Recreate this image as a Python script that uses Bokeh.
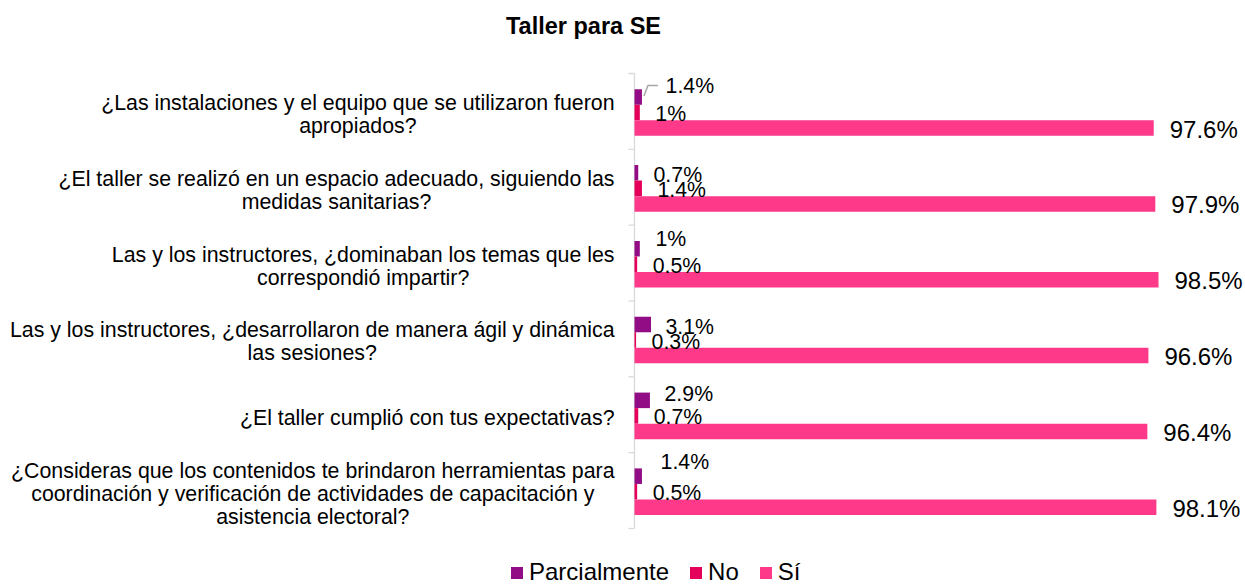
from bokeh.plotting import figure
from bokeh.models import Range1d, Legend, LegendItem, ColumnDataSource
from bokeh.embed import file_html
from bokeh.resources import INLINE
from bokeh.core.properties import value

# ---------------- data ----------------
title = "Taller para SE"
categories = [
    "¿Las instalaciones y el equipo que se utilizaron fueron\napropiados?",
    "¿El taller se realizó en un espacio adecuado, siguiendo las\nmedidas sanitarias?",
    "Las y los instructores, ¿dominaban los temas que les\ncorrespondió impartir?",
    "Las y los instructores, ¿desarrollaron de manera ágil y dinámica\nlas sesiones?",
    "¿El taller cumplió con tus expectativas?",
    "¿Consideras que los contenidos te brindaron herramientas para\ncoordinación y verificación de actividades de capacitación y\nasistencia electoral?",
]
series_names = ["Parcialmente", "No", "Sí"]
parcialmente = [1.4, 0.7, 1.0, 3.1, 2.9, 1.4]
no = [1.0, 1.4, 0.5, 0.3, 0.7, 0.5]
si = [97.6, 97.9, 98.5, 96.6, 96.4, 98.1]

# ---------------- style ----------------
FONT = "Liberation Sans"
C_P, C_NO, C_SI = "#920D85", "#E5005A", "#FF398A"
AXIS_C = "#D9D9D9"

W, H = 1245, 588
X0, YT, YB = 634, 73, 528          # axis position / top / bottom of category area (px)
PX = 5.32                           # px per percent
NCAT = len(categories)
PY = (YB - YT) / NCAT               # px per category

BAR_H = 0.205
OFFS = [0.31, 0.515, 0.72]          # bar centres inside a category band

# label nudges (pixels), as manually placed in the original
P_DX = [23.6, 15.3, 15.7, 14.5, 14.6, 18.6]
P_DY = [-11.5, 1.7, -10.0, 2.0, -6.0, -14.0]
NO_DX, NO_DY = 15.5, 1.5
SI_DX, SI_DY = 16.0, 1.0

AW = {' ': .278, ',': .278, '.': .278, '?': .556, '¿': .611, 'L': .556, 'E': .667,
      'C': .722, 'a': .556, 'b': .556, 'c': .5, 'd': .556, 'e': .556, 'f': .278,
      'g': .556, 'h': .556, 'i': .222, 'j': .222, 'k': .5, 'l': .222, 'm': .833,
      'n': .556, 'o': .556, 'p': .556, 'q': .556, 'r': .333, 's': .5, 't': .278,
      'u': .556, 'v': .5, 'w': .722, 'x': .5, 'y': .5, 'z': .5, 'á': .556,
      'é': .556, 'í': .278, 'ó': .556, 'ú': .556}


def text_w(s, size):
    return sum(AW.get(ch, 0.556) for ch in s) * size


def xd(px):
    return (px - X0) / PX


def yd(py):
    return (py - YT) / PY


def fmt(v):
    return f"{v:g}%"


p = figure(width=W, height=H, output_backend="svg", toolbar_location=None,
           x_range=Range1d(xd(0), xd(W)), y_range=Range1d(yd(H), yd(0)),
           x_axis_location=None, y_axis_location=None,
           min_border_left=0, min_border_right=0, min_border_top=0,
           min_border_bottom=0)
p.outline_line_color = None
p.xgrid.visible = False
p.ygrid.visible = False
p.background_fill_color = "white"
p.border_fill_color = "white"

# category axis: line + outward ticks at band boundaries
bounds = list(range(NCAT + 1))
p.segment(x0=[0], y0=[0], x1=[0], y1=[NCAT], line_color=AXIS_C, line_width=1.3)
p.segment(x0=[-6 / PX] * len(bounds), y0=bounds, x1=[0] * len(bounds), y1=bounds,
          line_color=AXIS_C, line_width=1.3)

idx = list(range(NCAT))
renderers = []
for vals, col, off in zip([parcialmente, no, si], [C_P, C_NO, C_SI], OFFS):
    src = ColumnDataSource(dict(y=[i + off for i in idx], right=vals))
    r = p.hbar(y="y", right="right", left=0, height=BAR_H, source=src,
               fill_color=col, line_color=None)
    renderers.append(r)

# value labels
src_p = ColumnDataSource(dict(x=parcialmente, y=[i + OFFS[0] for i in idx],
                              t=[fmt(v) for v in parcialmente], dx=P_DX, dy=P_DY))
p.text(x="x", y="y", text="t", x_offset="dx", y_offset="dy", source=src_p,
       text_font=value(FONT), text_font_size="21.3px", text_color="#000000",
       text_align="left", text_baseline="middle")
src_n = ColumnDataSource(dict(x=no, y=[i + OFFS[1] for i in idx], t=[fmt(v) for v in no]))
p.text(x="x", y="y", text="t", x_offset=NO_DX, y_offset=NO_DY, source=src_n,
       text_font=value(FONT), text_font_size="21.3px", text_color="#000000",
       text_align="left", text_baseline="middle")
src_s = ColumnDataSource(dict(x=si, y=[i + OFFS[2] for i in idx], t=[fmt(v) for v in si]))
p.text(x="x", y="y", text="t", x_offset=SI_DX, y_offset=SI_DY, source=src_s,
       text_font=value(FONT), text_font_size="24px", text_color="#000000",
       text_align="left", text_baseline="middle")

# leader line for the first "Parcialmente" label
x0 = parcialmente[0]
y0 = OFFS[0]
p.line(x=[x0 + 2 / PX, x0 + 6 / PX, x0 + 16 / PX],
       y=[y0 - 1 / PY, y0 - 11.5 / PY, y0 - 11.5 / PY],
       line_color="#A6A6A6", line_width=1.5)

# category labels (right-aligned block, centred lines)
CAT_SIZE = 21.33
RIGHT = 614
LINE_SP = 23.0
cx_l, cy_l, ct_l = [], [], []
for i, cat in enumerate(categories):
    lines = cat.split("\n")
    maxw = max(text_w(s, CAT_SIZE) for s in lines)
    cx = RIGHT - maxw / 2
    cy = YT + (i + 0.5) * PY + 3
    n = len(lines)
    for j, s in enumerate(lines):
        cx_l.append(xd(cx))
        cy_l.append(yd(cy + (j - (n - 1) / 2) * LINE_SP))
        ct_l.append(s)
p.text(x="x", y="y", text="t", source=ColumnDataSource(dict(x=cx_l, y=cy_l, t=ct_l)),
       text_font=value(FONT), text_font_size=f"{CAT_SIZE}px", text_color="#000000",
       text_align="center", text_baseline="middle")

# title
p.text(x=[xd(583)], y=[yd(25)], text=[title], text_font=value(FONT),
       text_font_style="bold", text_font_size="23.5px", text_color="#000000",
       text_align="center", text_baseline="middle")

# legend
legend = Legend(items=[LegendItem(label=n, renderers=[r]) for n, r in zip(series_names, renderers)],
                location=(509, 2), orientation="horizontal",
                glyph_width=15, glyph_height=15, label_standoff=5, spacing=19,
                padding=0, margin=0, border_line_color=None, background_fill_alpha=0,
                label_text_font=FONT, label_text_font_size="24px",
                label_text_color="#000000")
p.add_layout(legend, "center")

open("out.html", "w").write(file_html(p, INLINE))
